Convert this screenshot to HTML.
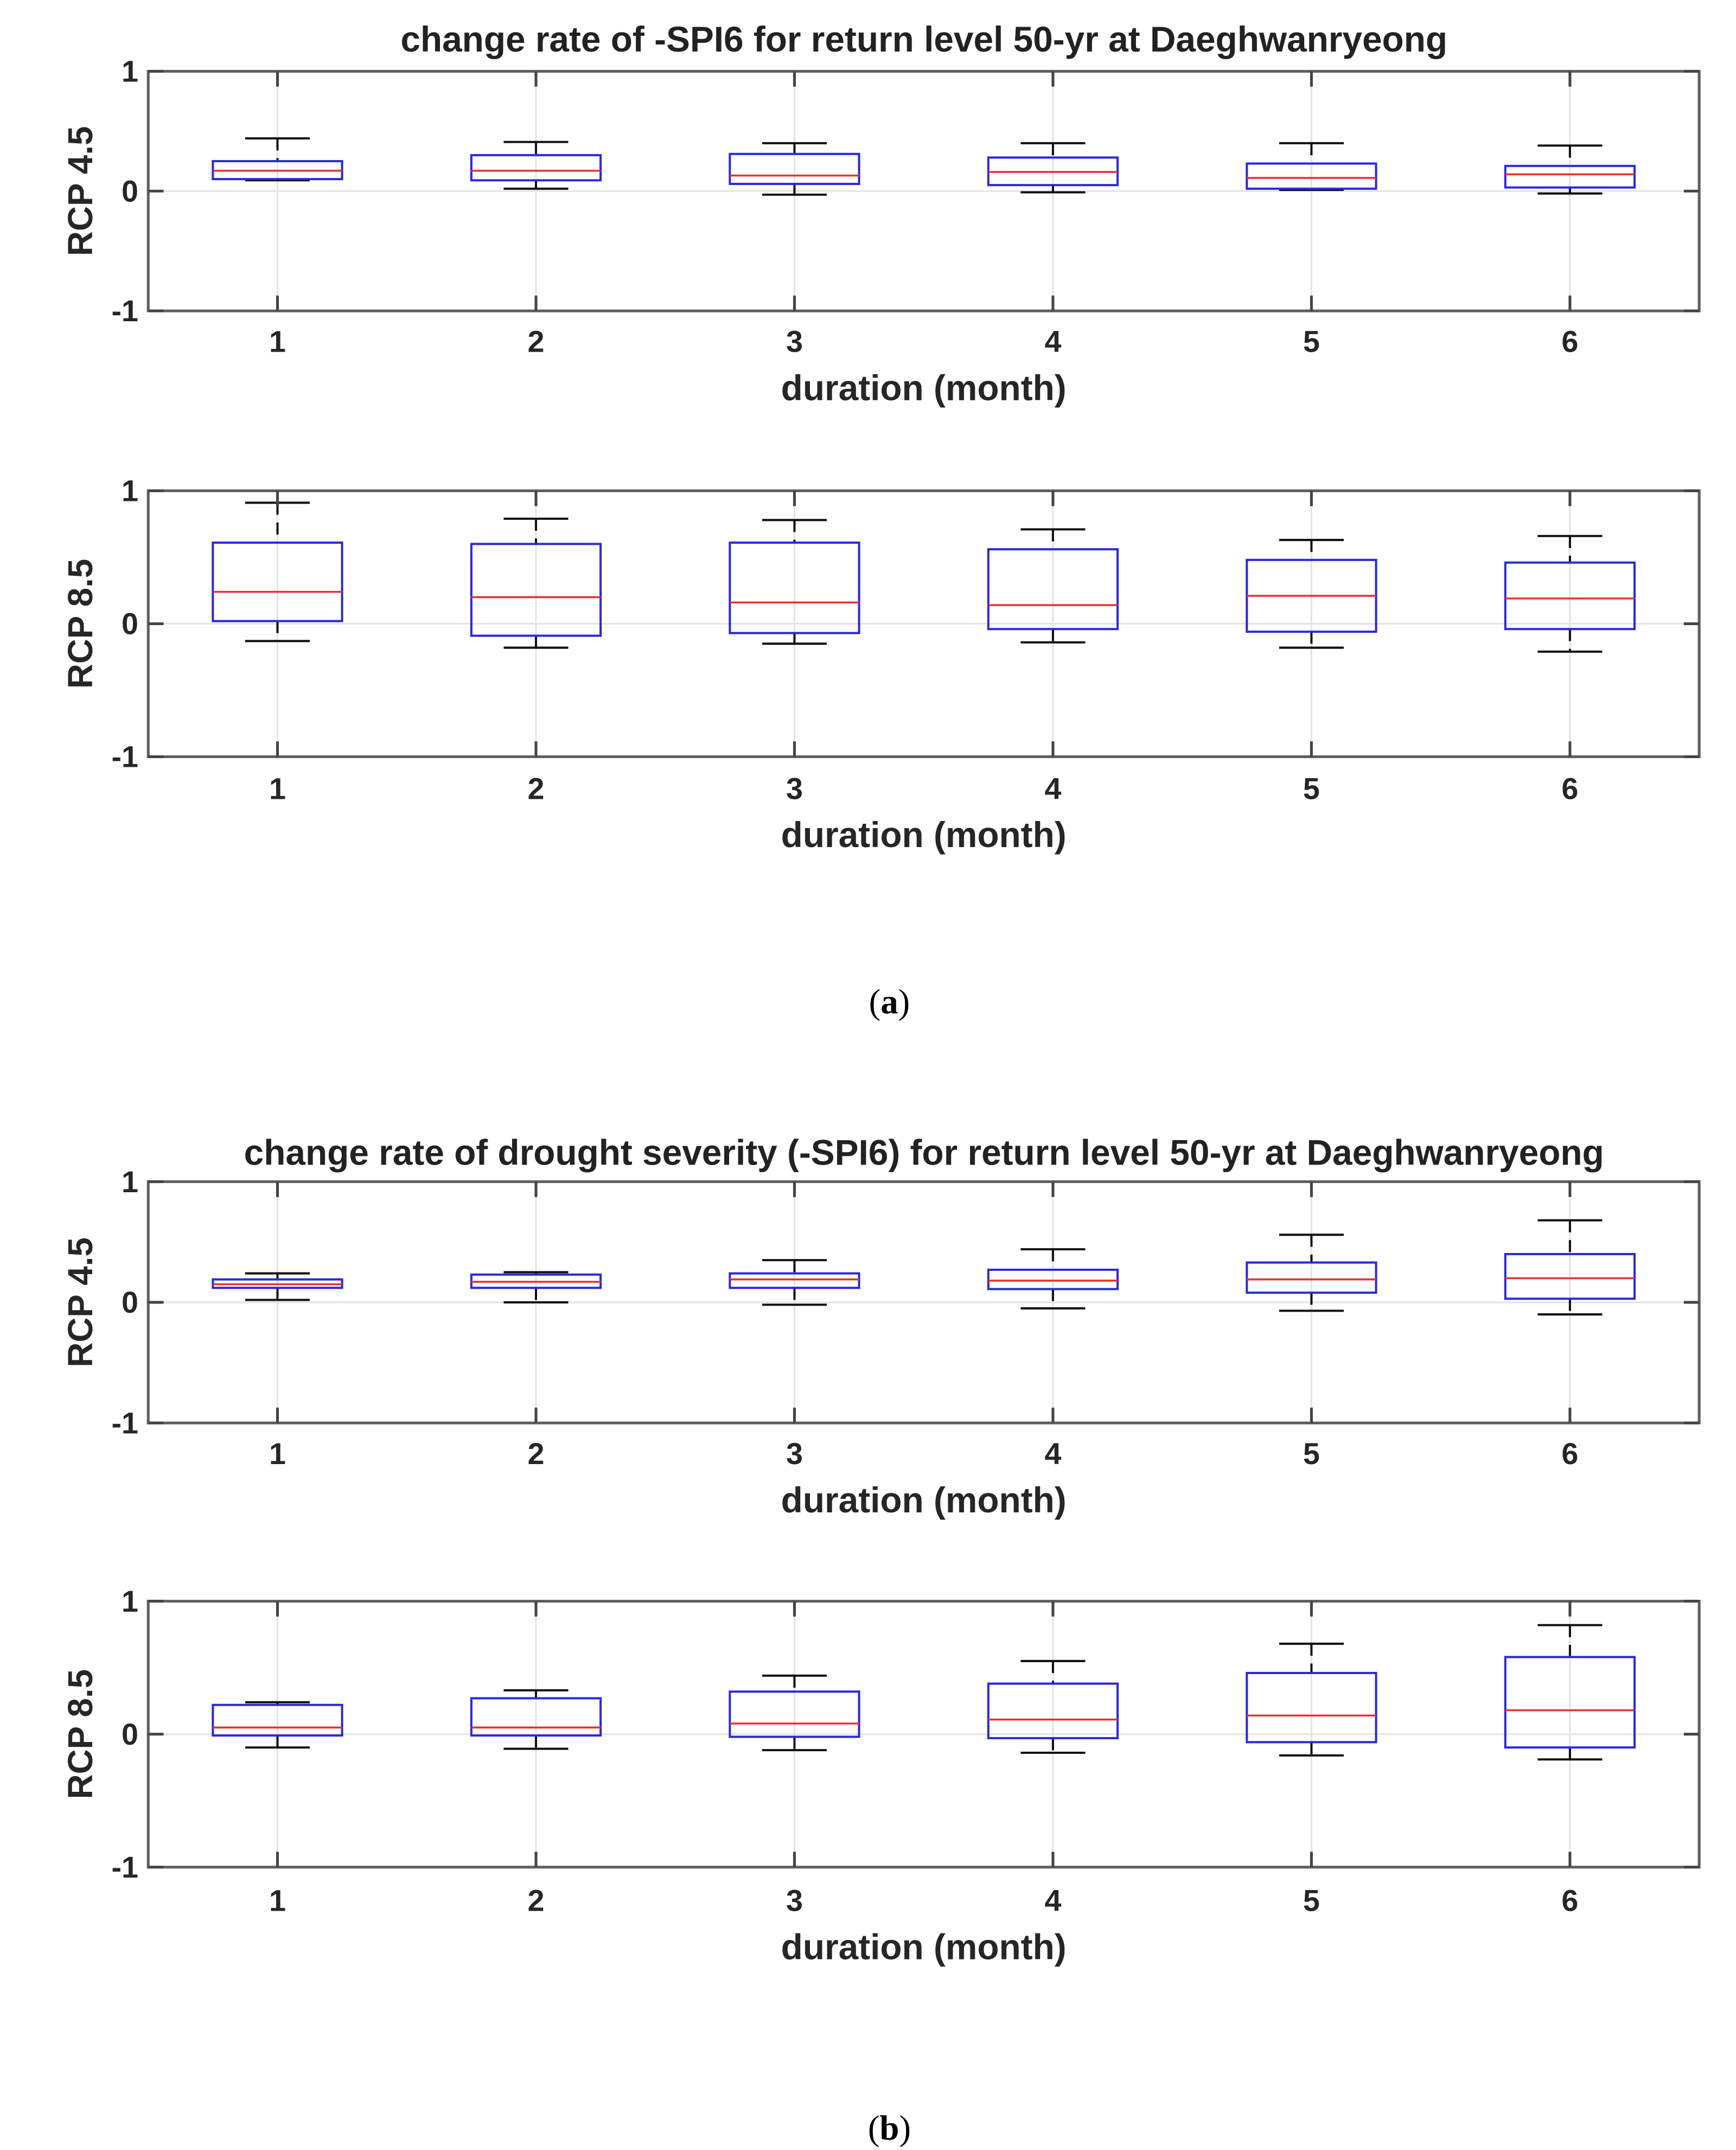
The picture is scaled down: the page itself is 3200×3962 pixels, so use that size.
<!DOCTYPE html>
<html><head><meta charset="utf-8"><style>
html,body{margin:0;padding:0;background:#fff;}
svg{display:block;}
</style></head><body>
<svg id="fig" width="3200" height="3962" viewBox="0 0 3200 3962" xmlns="http://www.w3.org/2000/svg" font-family="Liberation Sans, sans-serif">
<rect width="3200" height="3962" fill="#fff"/>
<g id="root" transform="scale(1.012,1.0105)">
<text x="1683" y="94" font-size="65" font-weight="bold" text-anchor="middle" fill="#222">change rate of -SPI6 for return level 50-yr at Daeghwanryeong</text>
<text x="1683" y="2124" font-size="65" font-weight="bold" text-anchor="middle" fill="#222">change rate of drought severity (-SPI6) for return level 50-yr at Daeghwanryeong</text>
<text x="1620" y="1848" font-size="64" font-family="Liberation Serif, serif" text-anchor="middle" fill="#000">(<tspan font-weight="bold">a</tspan>)</text>
<text x="1620" y="3902" font-size="64" font-family="Liberation Serif, serif" text-anchor="middle" fill="#000">(<tspan font-weight="bold">b</tspan>)</text>
</g>
</svg>
<script>
const categories = [1, 2, 3, 4, 5, 6];
const yTicks = [-1, 0, 1];
const panelLabels = ["RCP 4.5", "RCP 8.5", "RCP 4.5", "RCP 8.5"];
// each series: [lowerWhisker, q1, median, q3, upperWhisker] per category
const a45Low = [0.09, 0.02, -0.03, -0.01, 0.01, -0.02];
const a45Q1  = [0.10, 0.09, 0.06, 0.05, 0.02, 0.03];
const a45Med = [0.17, 0.17, 0.13, 0.16, 0.11, 0.14];
const a45Q3  = [0.25, 0.30, 0.31, 0.28, 0.23, 0.21];
const a45Up  = [0.44, 0.41, 0.40, 0.40, 0.40, 0.38];
const a85Low = [-0.13, -0.18, -0.15, -0.14, -0.18, -0.21];
const a85Q1  = [0.02, -0.09, -0.07, -0.04, -0.06, -0.04];
const a85Med = [0.24, 0.20, 0.16, 0.14, 0.21, 0.19];
const a85Q3  = [0.61, 0.60, 0.61, 0.56, 0.48, 0.46];
const a85Up  = [0.91, 0.79, 0.78, 0.71, 0.63, 0.66];
const b45Low = [0.02, 0.00, -0.02, -0.05, -0.07, -0.10];
const b45Q1  = [0.12, 0.12, 0.12, 0.11, 0.08, 0.03];
const b45Med = [0.15, 0.17, 0.19, 0.18, 0.19, 0.20];
const b45Q3  = [0.19, 0.23, 0.24, 0.27, 0.33, 0.40];
const b45Up  = [0.24, 0.25, 0.35, 0.44, 0.56, 0.68];
const b85Low = [-0.10, -0.11, -0.12, -0.14, -0.16, -0.19];
const b85Q1  = [-0.01, -0.01, -0.02, -0.03, -0.06, -0.10];
const b85Med = [0.05, 0.05, 0.08, 0.11, 0.14, 0.18];
const b85Q3  = [0.22, 0.27, 0.32, 0.38, 0.46, 0.58];
const b85Up  = [0.24, 0.33, 0.44, 0.55, 0.68, 0.82];

const panels = [
  {name:"a-rcp45", top:130, bottom:567, tickY:642, xlabY:730, data:[a45Low,a45Q1,a45Med,a45Q3,a45Up]},
  {name:"a-rcp85", top:895, bottom:1380, tickY:1457, xlabY:1545, data:[a85Low,a85Q1,a85Med,a85Q3,a85Up]},
  {name:"b-rcp45", top:2155, bottom:2595, tickY:2670, xlabY:2758, data:[b45Low,b45Q1,b45Med,b45Q3,b45Up]},
  {name:"b-rcp85", top:2920, bottom:3405, tickY:3485, xlabY:3573, data:[b85Low,b85Q1,b85Med,b85Q3,b85Up]}
];
const L = 270, R = 3095;
const root = document.getElementById('root');
const NS = "http://www.w3.org/2000/svg";
function mk(tag, attrs, parent){
  const e = document.createElementNS(NS, tag);
  for (const k in attrs) e.setAttribute(k, attrs[k]);
  (parent||root).appendChild(e);
  return e;
}
panels.forEach((p, pi) => {
  const xs = c => L + (c - 0.5) * (R - L) / 6;
  const ys = v => p.bottom - (v + 1) / 2 * (p.bottom - p.top);
  const g = mk('g', {});
  
  
  categories.forEach(c => {
    const gl = mk('line', {x1:xs(c), x2:xs(c), y1:p.top, y2:p.bottom, stroke:'#e3e3e3', 'stroke-width':3}, g);
    
    
  });
  yTicks.forEach(t => {
    const gl = mk('line', {x1:L, x2:R, y1:ys(t), y2:ys(t), stroke:'#e3e3e3', 'stroke-width':3}, g);
    
    
  });
  const [lo, q1, md, q3, up] = p.data;
  categories.forEach((c, i) => {
    const bx = mk('g', {}, g);
    
    
    const x = xs(c), hw = 0.25 * (R - L) / 6, cw = 0.125 * (R - L) / 6;
    mk('line', {x1:x, x2:x, y1:ys(up[i]), y2:ys(q3[i]), stroke:'#111', 'stroke-width':4, 'stroke-dasharray':'22,14'}, bx);
    mk('line', {x1:x, x2:x, y1:ys(q1[i]), y2:ys(lo[i]), stroke:'#111', 'stroke-width':4, 'stroke-dasharray':'22,14'}, bx);
    mk('line', {x1:x-cw, x2:x+cw, y1:ys(up[i]), y2:ys(up[i]), stroke:'#111', 'stroke-width':4}, bx);
    mk('line', {x1:x-cw, x2:x+cw, y1:ys(lo[i]), y2:ys(lo[i]), stroke:'#111', 'stroke-width':4}, bx);
    mk('rect', {x:x-hw, y:ys(q3[i]), width:2*hw, height:Math.max(1, ys(q1[i]) - ys(q3[i])), fill:'none', stroke:'#2a2ad8', 'stroke-width':4}, bx);
    mk('line', {x1:x-hw, x2:x+hw, y1:ys(md[i]), y2:ys(md[i]), stroke:'#e83030', 'stroke-width':3.5}, bx);
  });
  const ax = mk('rect', {x:L, y:p.top, width:R-L, height:p.bottom-p.top, fill:'none', stroke:'#5e5e5e', 'stroke-width':5}, g);
  
  
  categories.forEach(c => {
    mk('line', {x1:xs(c), x2:xs(c), y1:p.bottom, y2:p.bottom-28, stroke:'#444', 'stroke-width':5}, g);
    mk('line', {x1:xs(c), x2:xs(c), y1:p.top, y2:p.top+28, stroke:'#444', 'stroke-width':5}, g);
    const tl = mk('text', {x:xs(c), y:p.tickY, 'font-size':55, 'font-weight':'bold', 'text-anchor':'middle', fill:'#262626'}, g);
    tl.textContent = c;
    
    
  });
  yTicks.forEach(t => {
    mk('line', {x1:L, x2:L+28, y1:ys(t), y2:ys(t), stroke:'#444', 'stroke-width':5}, g);
    mk('line', {x1:R, x2:R-28, y1:ys(t), y2:ys(t), stroke:'#444', 'stroke-width':5}, g);
    const tl = mk('text', {x:L-18, y:ys(t)+19, 'font-size':55, 'font-weight':'bold', 'text-anchor':'end', fill:'#262626'}, g);
    tl.textContent = t;
    
    
  });
  const xl = mk('text', {x:(L+R)/2, y:p.xlabY, 'font-size':65, 'font-weight':'bold', 'text-anchor':'middle', fill:'#262626'}, g);
  xl.textContent = 'duration (month)';
  
  
  const yc = ys(0);
  const yl = mk('text', {x:0, y:0, 'font-size':63, 'font-weight':'bold', 'text-anchor':'middle', fill:'#262626', transform:'translate(168,'+yc+') rotate(-90)'}, g);
  yl.textContent = panelLabels[pi];
  
  
});
</script>
</body></html>
